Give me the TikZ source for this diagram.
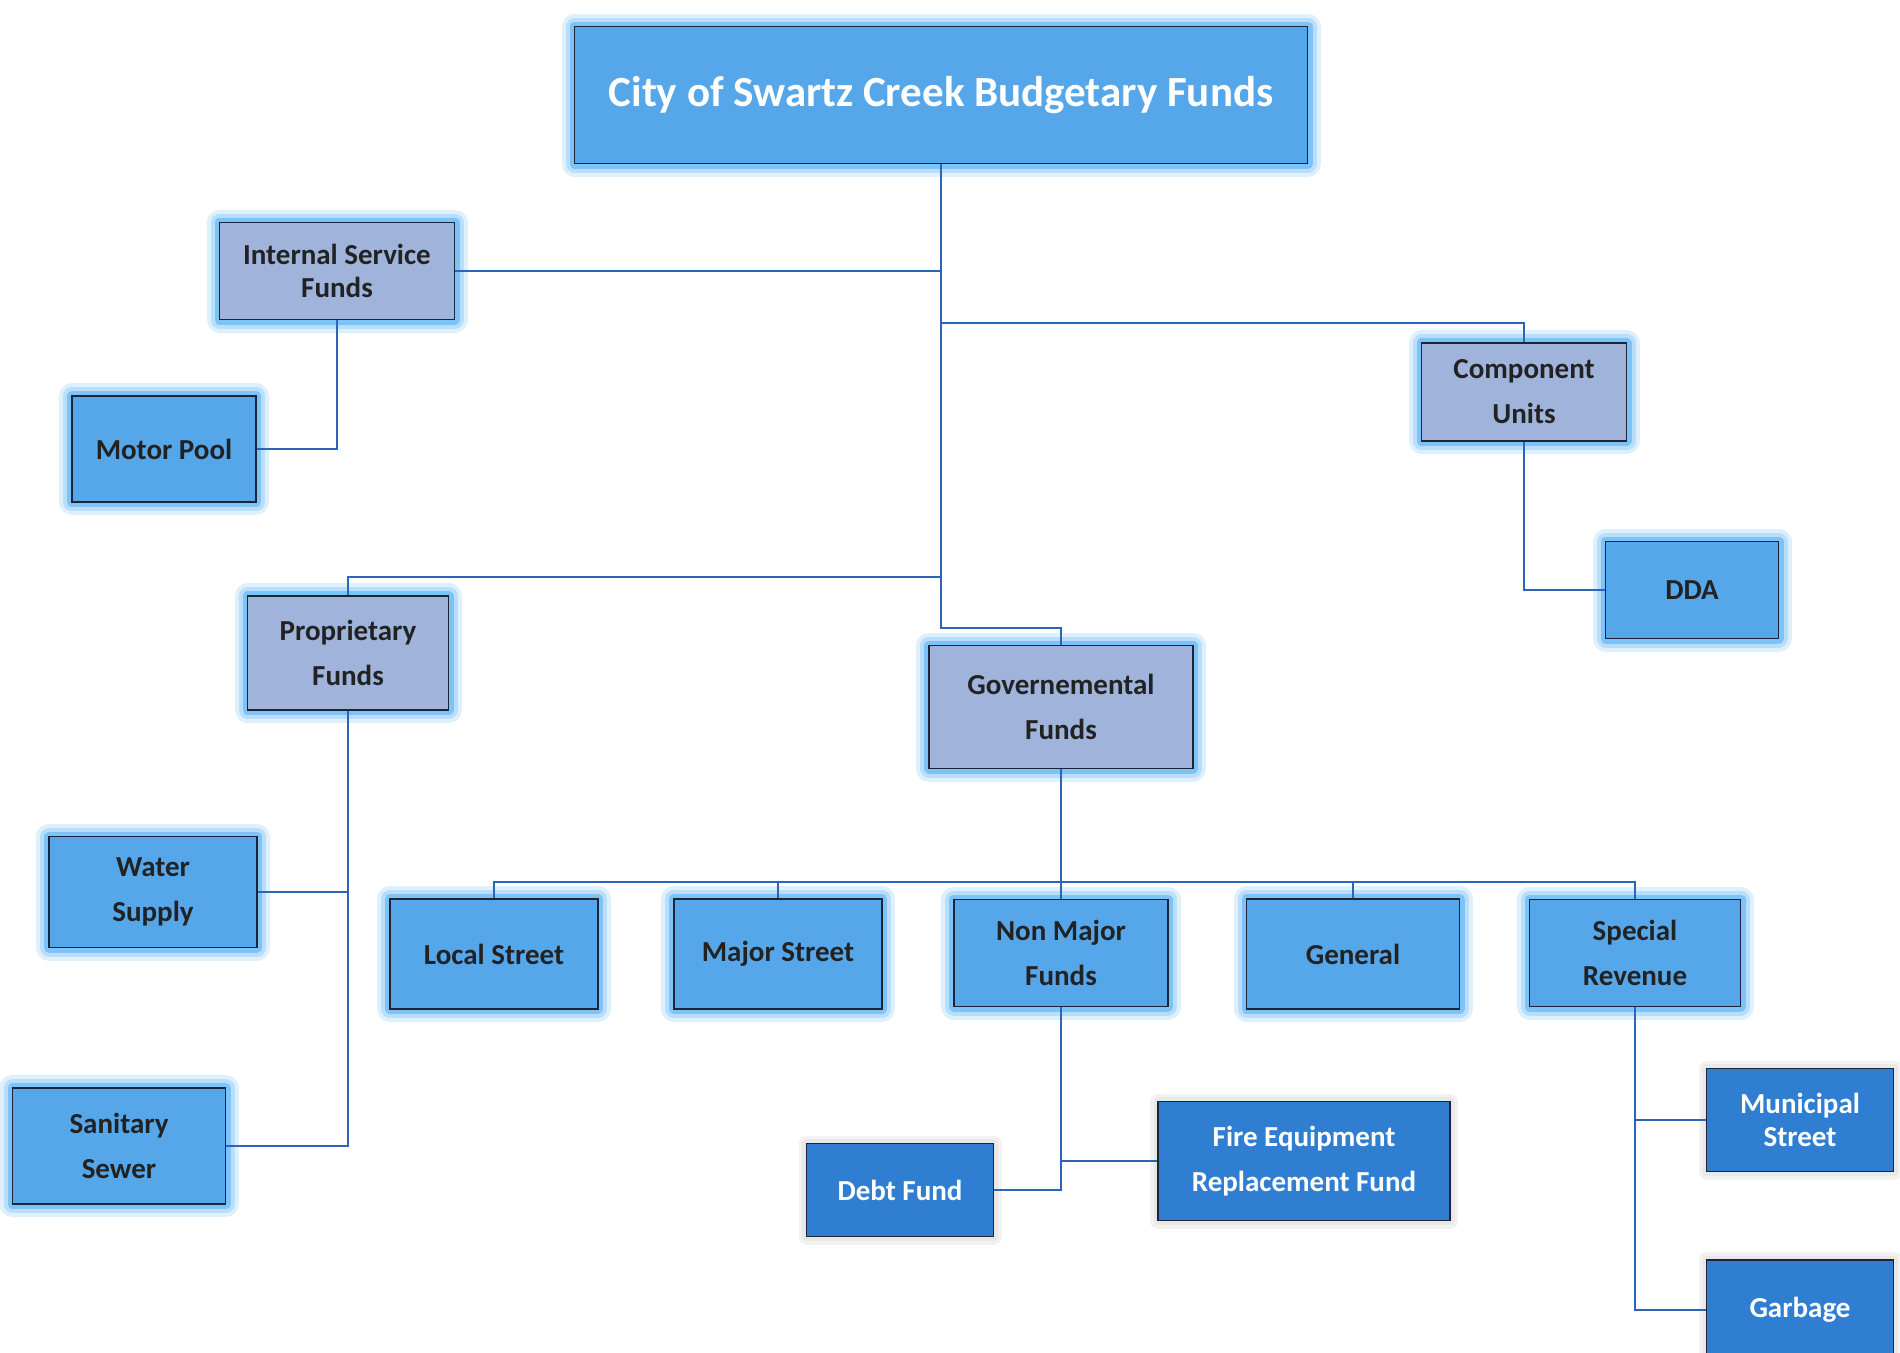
\documentclass[tikz,border=0pt]{standalone}
\usepackage{fontspec}
\setmainfont{Carlito}
\usepackage{xcolor}
\definecolor{BoxBlue}{HTML}{56A6EA}
\definecolor{BoxGrey}{HTML}{A0B3DB}
\definecolor{BoxDark}{HTML}{2F7ED2}
\definecolor{EdgeNavy}{HTML}{1C2438}
\definecolor{LinkBlue}{HTML}{2B65B9}
\definecolor{GlowBlue}{HTML}{7EC3F7}
\definecolor{InkGrey}{HTML}{222222}
\usepackage{tikz}
\usetikzlibrary{calc}
\newcommand\Gap{12pt}
\tikzstyle{box}=[rectangle,draw=EdgeNavy,line width=1.6pt,align=center,
                 font=\fontsize{29}{33}\selectfont\bfseries,text=InkGrey]
\tikzstyle{fund}=[box,fill=BoxBlue,
                  preaction={draw=GlowBlue!25,line width=26pt,line join=round},
                  preaction={draw=GlowBlue!55,line width=18pt,line join=round},
                  preaction={draw=GlowBlue,line width=10pt,line join=round}]
\tikzstyle{group}=[fund,fill=BoxGrey]
\tikzstyle{leaf}=[box,fill=BoxDark,text=white,
                  preaction={draw=black!5,line width=16pt,line join=round},
                  preaction={draw=black!9,line width=9pt,line join=round}]
\tikzstyle{link}=[draw=LinkBlue,line width=2.4pt]

\begin{document}
\begin{tikzpicture}[x=1pt,y=-1pt]
   \useasboundingbox (0,0) rectangle (1900,1352);
   \clip (0,0) rectangle (1900,1352);
   % top
   \node[fund,text=white,minimum width=733pt,minimum height=137pt,
         font=\fontsize{43}{50}\selectfont\bfseries] (title) at (941,95) {City of Swartz Creek Budgetary Funds};
   \coordinate (isftap) at (941,271);
   \coordinate (cutap) at (941,323);
   \coordinate (pftap) at (941,577);
   \coordinate (trunk) at (941,628);
   \coordinate (bus) at (1061,882);
   % second level
   \node[group,minimum width=235pt,minimum height=97pt] (isf) at (337,271) {Internal Service\\Funds};
   \node[fund,minimum width=184pt,minimum height=106pt] (motor) at (164,449) {Motor Pool};
   \node[group,minimum width=205pt,minimum height=98pt] (cu) at (1524,392) {Component\\[\Gap]Units};
   \node[fund,minimum width=173pt,minimum height=97pt] (dda) at (1692,590) {DDA};
   \node[group,minimum width=201pt,minimum height=114pt] (pf) at (348,653) {Proprietary\\[\Gap]Funds};
   \node[fund,minimum width=208pt,minimum height=111pt] (water) at (153,892) {Water\\[\Gap]Supply};
   \node[fund,minimum width=213pt,minimum height=116pt] (sewer) at (119,1146) {Sanitary\\[\Gap]Sewer};
   \node[group,minimum width=264pt,minimum height=123pt] (gov) at (1061,707) {Governemental\\[\Gap]Funds};
   % governmental row
   \node[fund,minimum width=208pt,minimum height=110pt] (local) at (494,954) {Local Street};
   \node[fund,minimum width=208pt,minimum height=110pt] (major) at (778,954) {Major Street};
   \node[fund,minimum width=214pt,minimum height=107pt] (nonmajor) at (1061,953) {Non Major\\[\Gap]Funds};
   \node[fund,minimum width=213pt,minimum height=110pt] (general) at (1353,954) {General};
   \node[fund,minimum width=211pt,minimum height=107pt] (special) at (1635,953) {Special\\[\Gap]Revenue};
   % bottom
   \node[leaf,minimum width=187pt,minimum height=93pt] (debt) at (900,1190) {Debt Fund};
   \node[leaf,minimum width=292pt,minimum height=119pt] (fire) at (1304,1161) {Fire Equipment\\[\Gap]Replacement Fund};
   \node[leaf,minimum width=187pt,minimum height=103pt] (municipal) at (1800,1120) {Municipal\\Street};
   \node[leaf,minimum width=187pt,minimum height=100pt] (garbage) at (1800,1310) {Garbage};
   % connectors
   \draw[link] (title.south) -- (trunk) -| (gov.north);
   \draw[link] (isf.east) -- (isftap);
   \draw[link] (cutap) -| (cu.north);
   \draw[link] (pftap) -| (pf.north);
   \draw[link] (isf.south) |- (motor.east);
   \draw[link] (cu.south) |- (dda.west);
   \draw[link] (pf.south) |- (water.east);
   \draw[link] (pf.south) |- (sewer.east);
   \draw[link] (gov.south) -- (nonmajor.north);
   \draw[link] (local.north) |- (bus) -| (special.north);
   \draw[link] (major.north) |- (bus);
   \draw[link] (general.north) |- (bus);
   \draw[link] (nonmajor.south) |- (debt.east);
   \draw[link] (nonmajor.south) |- (fire.west);
   \draw[link] (special.south) |- (municipal.west);
   \draw[link] (special.south) |- (garbage.west);
\end{tikzpicture}
\end{document}
